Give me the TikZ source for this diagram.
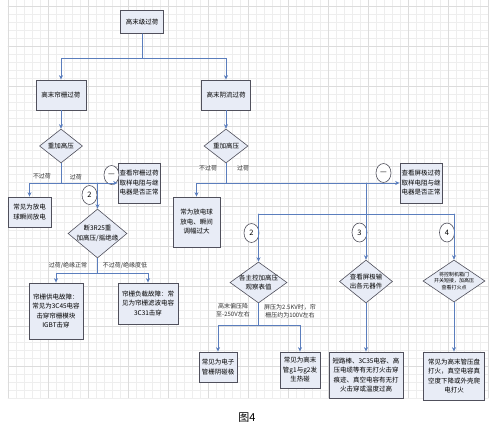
\documentclass[tikz,border=0pt]{standalone}
\usepackage{fontspec}
\setmainfont{Noto Sans CJK SC}
\usetikzlibrary{arrows.meta,shapes.geometric}
\definecolor{boxfill}{HTML}{E8ECF6}
\definecolor{boxline}{HTML}{50505C}
\definecolor{flowblue}{HTML}{5B7EBD}
\definecolor{gridminor}{HTML}{EEEEEE}
\definecolor{gridmajor}{HTML}{DCDCDC}

\begin{document}
\begin{tikzpicture}[x=1pt,y=-1pt,>={Stealth[length=4.5pt,width=4pt]},line cap=round,
  font=\fontsize{6.5}{9.5}\selectfont,
  box/.style={draw=boxline,fill=boxfill,line width=0.8pt,align=center,inner sep=1pt},
  cond/.style={diamond,draw=boxline,fill=boxfill,line width=0.6pt,inner sep=0pt},
  tag/.style={ellipse,draw=boxline,fill=white,line width=0.6pt,inner sep=0pt,
    minimum width=15,minimum height=19,font=\fontsize{7.5}{9}\selectfont},
  flow/.style={draw=flowblue,line width=0.7pt,->},
  wire/.style={draw=flowblue,line width=0.7pt},
  lab/.style={font=\fontsize{6}{8.5}\selectfont,text=black!80,align=center}]
\useasboundingbox (0,0) rectangle (499,437);
\fill[white] (0,0) rectangle (499,437);
% grid paper
\foreach \gx in {8,16,...,488} \draw[gridminor,line width=0.3pt] (\gx,0) -- (\gx,398);
\foreach \gy in {6,14,...,398} \draw[gridminor,line width=0.3pt] (8,\gy) -- (488,\gy);
\foreach \gx in {8,48,...,488} \draw[gridmajor,line width=0.4pt] (\gx,0) -- (\gx,398);
\foreach \gy in {6,46,...,398} \draw[gridmajor,line width=0.4pt] (8,\gy) -- (488,\gy);

% boxes
\node[box,minimum width=43,minimum height=23] (top) at (142,22) {高末级过荷};
\node[box,minimum width=50,minimum height=30] (screen) at (61,95) {高末帘栅过荷};
\node[box,minimum width=49,minimum height=30] (cathode) at (226,95) {高末阴流过荷};
\node[cond,minimum width=43,minimum height=34] (redoA) at (61,146) {重加高压};
\node[cond,minimum width=44,minimum height=34] (redoB) at (226,146) {重加高压};
\node[box,minimum width=42,minimum height=40] (checkA) at (139,183) {查看帘栅过荷\\取样电阻与继\\电器是否正常};
\node[box,minimum width=43,minimum height=30] (sparkA) at (29.5,212) {常见为放电\\球瞬间放电};
\node[cond,minimum width=59,minimum height=49,
  label={[align=center]center:断3R25重\\加高压/摇绝缘}] (cut) at (97.5,233.5) {};
\node[box,minimum width=54,minimum height=56] (supply) at (56,311) {帘栅供电故障：\\常见为3C45电容\\击穿帘栅模块\\IGBT击穿};
\node[box,minimum width=60,minimum height=41] (load) at (148,303.5) {帘栅负载故障：常\\见为帘栅滤波电容\\3C31击穿};
\node[box,minimum width=47,minimum height=50] (sparkB) at (196.5,222) {常为放电球\\放电、瞬间\\调幅过大};
\node[box,minimum width=42,minimum height=40] (checkB) at (421,183) {查看屏极过荷\\取样电阻与继\\电器是否正常};
\node[cond,minimum width=57,minimum height=41,
  label={[align=center]center:各主控加高压\\观察表值}] (meter) at (258.5,282.5) {};
\node[cond,minimum width=53,minimum height=43,
  label={[align=center]center:查看屏极输\\出各元器件}] (parts) at (366,281.5) {};
\node[cond,minimum width=62,minimum height=42,
  label={[align=center,font=\fontsize{5}{6.8}\selectfont]center:将控制机箱门\\开关短接，加高压\\查看打火点}] (door) at (454,281) {};
\node[box,minimum width=38,minimum height=30] (gk) at (218,367) {常见为电子\\管栅阴碰极};
\node[box,minimum width=40,minimum height=36] (g12) at (300,370) {常见为高末\\管g1与g2发\\生热碰};
\node[box,minimum width=74,minimum height=46] (arc) at (366,375) {短路棒、3C35电容、高\\压电缆等有无打火击穿\\痕迹、真空电容有无打\\火击穿或温度过高};
\node[box,minimum width=61,minimum height=48] (plate) at (454,376) {常见为高末管压盘\\打火，真空电容真\\空度下降或外壳爬\\电打火};

% step tags
\node[tag] (tagA) at (111.5,175) {—};
\node[tag] (tagTwoA) at (89.5,195) {2};
\node[tag] (tagTwoB) at (251.5,233) {2};
\node[tag] (tagThree) at (359.5,232.5) {3};
\node[tag] (tagFour) at (447,232.5) {4};
\node[tag] (tagB) at (383.5,173) {—};

% connectors
\draw[wire] (top.south) -- ++(0,24) coordinate (split);
\draw[flow] (split) -| (screen.north);
\draw[flow] (split) -| (cathode.north);
\draw[flow] (screen) -- (redoA);
\draw[flow] (cathode) -- (redoB);
\draw[wire] (redoA.south) -- (redoA.south |- checkA.west) coordinate (forkA);
\draw[flow] (forkA) -| (sparkA.north);
\draw[flow] (forkA) -- (checkA.west);
\draw[flow] (cut.north |- forkA) -- (cut.north);
\draw[wire] (cut.south) -- ++(0,15) coordinate (forkC);
\draw[flow] (forkC) -| (supply.north);
\draw[flow] (forkC) -| (load.north);
\draw[wire] (redoB.south) -- (redoB.south |- checkB.west) coordinate (forkB);
\draw[flow] (forkB) -| (sparkB.north);
\draw[flow] (forkB) -- (checkB.west);
\draw[flow] (parts.north |- forkB) -- (parts.north);
\coordinate (bus) at (366,214);
\draw[wire] (bus -| meter.north) -- (bus -| door.north);
\draw[flow] (bus -| meter.north) -- (meter.north);
\draw[flow] (bus -| door.north) -- (door.north);
\draw[wire] (meter.south) -- ++(0,22) coordinate (forkD);
\draw[flow] (forkD) -| (gk.north);
\draw[flow] (forkD) -| (g12.north);
\draw[flow] (parts) -- (arc);
\draw[flow] (door) -- (plate);

% branch labels
\node[lab] (noA) at (42,176) {不过荷};
\node[lab] (yesA) at (76,177) {过荷};
\node[lab] (noB) at (208,168) {不过荷};
\node[lab] (yesB) at (243,168) {过荷};
\node[lab] (okIns) at (68,265) {过荷/绝缘正常};
\node[lab] (lowIns) at (125,265) {不过荷/绝缘度低};
\node[lab] (bias) at (233,310) {高末偏压降\\至-250V左右};
\node[lab] (volts) at (290,311) {屏压为2.5KV时，帘\\栅压约为100V左右};

\node[font=\fontsize{11}{13}\selectfont] (caption) at (247,418) {图4};
\end{tikzpicture}
\end{document}
